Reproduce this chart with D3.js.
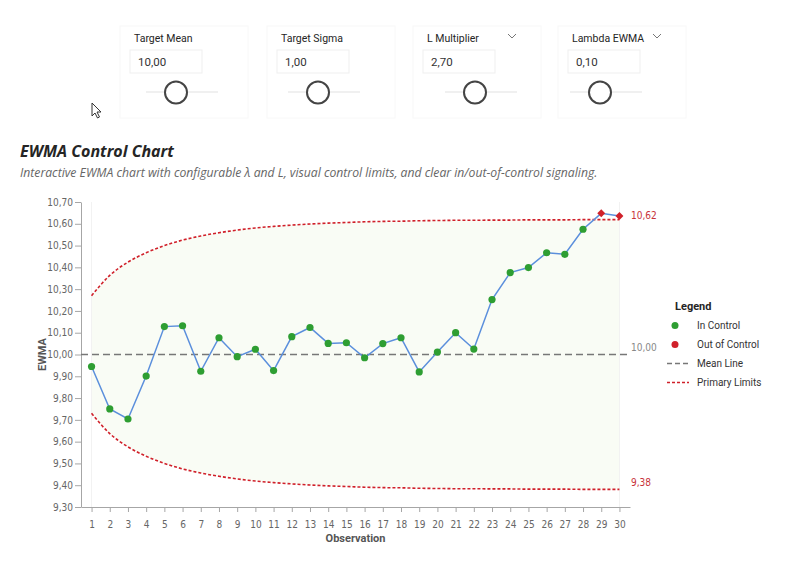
<!DOCTYPE html>
<html>
<head>
<meta charset="utf-8">
<script src="https://cdn.jsdelivr.net/npm/d3@7"></script>
<style>
body { margin: 0; background: #fff; }
svg { display: block; font-family: Roboto, "DejaVu Sans", sans-serif; }
</style>
</head>
<body>
<svg id="chart" width="800" height="588"></svg>
<script>
// parameter cards
const controlLabels = ['Target Mean', 'Target Sigma', 'L Multiplier', 'Lambda EWMA'];
const controlValues = ['10,00', '1,00', '2,70', '0,10'];
const controlChevron = [false, false, true, true];

// chart data
const observations = [1,2,3,4,5,6,7,8,9,10,11,12,13,14,15,16,17,18,19,20,21,22,23,24,25,26,27,28,29,30];
const ewmaValues = [9.945, 9.750, 9.704, 9.901, 10.128, 10.132, 9.923, 10.077, 9.990, 10.024,
                    9.926, 10.082, 10.124, 10.051, 10.054, 9.985, 10.050, 10.077, 9.920, 10.011,
                    10.100, 10.025, 10.252, 10.376, 10.399, 10.467, 10.460, 10.575, 10.648, 10.636];
const upperLimits = [10.270, 10.363, 10.424, 10.467, 10.500, 10.525, 10.544, 10.559, 10.571, 10.581,
                     10.588, 10.594, 10.599, 10.603, 10.606, 10.609, 10.611, 10.612, 10.614, 10.615,
                     10.616, 10.616, 10.617, 10.617, 10.618, 10.618, 10.618, 10.619, 10.619, 10.619];
const lowerLimits = [9.730, 9.637, 9.576, 9.533, 9.500, 9.475, 9.456, 9.441, 9.429, 9.419,
                     9.412, 9.406, 9.401, 9.397, 9.394, 9.391, 9.389, 9.388, 9.386, 9.385,
                     9.384, 9.384, 9.383, 9.383, 9.382, 9.382, 9.382, 9.381, 9.381, 9.381];
const meanValue = 10.00;
const yTicks = [9.3, 9.4, 9.5, 9.6, 9.7, 9.8, 9.9, 10.0, 10.1, 10.2, 10.3, 10.4, 10.5, 10.6, 10.7];
const legendLabels = ['In Control', 'Out of Control', 'Mean Line', 'Primary Limits'];

const svg = d3.select('#chart');

// comma decimal like the report
const fmt = d3.formatLocale({decimal: ',', thousands: '.', grouping: [3], currency: ['', '']}).format('.2f');

// ---- top parameter cards ----
const cardX = [134, 281, 427, 572];
const knobX = [176, 318, 475, 600];

controlLabels.forEach((label, i) => {
    const g = svg.append('g');
    const x = cardX[i];

    g.append('rect')
        .attr('x', x - 14).attr('y', 26)
        .attr('width', 128).attr('height', 92)
        .attr('fill', 'none')
        .attr('stroke', '#f8f8f8');

    g.append('text')
        .attr('x', x).attr('y', 42)
        .style('font-size', '10.5px')
        .attr('fill', '#252525')
        .text(label);

    if (controlChevron[i]) {
        g.append('path')
            .attr('d', `M${x + 81},34 l4,4 l4,-4`)
            .attr('fill', 'none')
            .attr('stroke', '#777')
            .attr('stroke-width', 1);
    }

    g.append('rect')
        .attr('x', x - 4).attr('y', 50)
        .attr('width', 72).attr('height', 23)
        .attr('fill', '#fff')
        .attr('stroke', '#efefef');

    g.append('text')
        .attr('x', x + 4).attr('y', 66)
        .style('font-size', '11.5px')
        .attr('fill', '#333')
        .text(controlValues[i]);

    g.append('line')
        .attr('x1', knobX[i] - 30).attr('x2', knobX[i] + 42)
        .attr('y1', 92).attr('y2', 92)
        .attr('stroke', '#f0f0f0')
        .attr('stroke-width', 2);

    g.append('circle')
        .attr('cx', knobX[i]).attr('cy', 92.5)
        .attr('r', 11)
        .attr('fill', '#fff')
        .attr('stroke', '#444')
        .attr('stroke-width', 2);
});

// mouse pointer
svg.append('path')
    .attr('d', 'M92,103 L92,116 L95,113 L97.5,118 L99.5,117 L97,112 L101,112 Z')
    .attr('fill', '#fff')
    .attr('stroke', '#333')
    .attr('stroke-width', 1);

// ---- titles ----
svg.append('text')
    .attr('x', 20).attr('y', 157)
    .style('font-family', '"Open Sans", sans-serif')
    .style('font-size', '16px')
    .style('font-weight', 'bold')
    .style('font-style', 'italic')
    .attr('fill', '#252525')
    .text('EWMA Control Chart');

svg.append('text')
    .attr('x', 20).attr('y', 177)
    .style('font-family', '"Open Sans", sans-serif')
    .style('font-size', '12.2px')
    .style('font-style', 'italic')
    .attr('fill', '#666')
    .text('Interactive EWMA chart with configurable λ and L, visual control limits, and clear in/out-of-control signaling.');

// ---- chart ----
const margin = {top: 202, right: 170, bottom: 81, left: 81};
const width = 800 - margin.left - margin.right;
const height = 588 - margin.top - margin.bottom;

const chart = svg.append('g')
    .attr('transform', `translate(${margin.left}, ${margin.top})`);

const xscale = d3.scalePoint()
    .domain(observations)
    .range([0, width])
    .padding(0.58);

const yscale = d3.scaleLinear()
    .domain([9.3, 10.7])
    .range([height, 0]);

const rows = observations.map((o, i) => ({
    obs: o,
    value: ewmaValues[i],
    ucl: upperLimits[i],
    lcl: lowerLimits[i]
}));

// control band
chart.append('path')
    .datum(rows)
    .attr('d', d3.area()
        .x(d => xscale(d.obs))
        .y0(d => yscale(d.lcl))
        .y1(d => yscale(d.ucl))
        .curve(d3.curveMonotoneX))
    .attr('fill', '#f9fcf5');

[observations[0], observations[observations.length - 1]].forEach(o => {
    chart.append('line')
        .attr('x1', xscale(o)).attr('x2', xscale(o))
        .attr('y1', 0).attr('y2', height)
        .attr('stroke', '#f2f2f2');
});

// axes
const xaxis = d3.axisBottom(xscale).tickSize(5).tickSizeOuter(0);
const yaxis = d3.axisLeft(yscale).tickValues(yTicks).tickFormat(fmt).tickSize(6).tickSizeOuter(0);

const xg = chart.append('g')
    .attr('transform', `translate(0, ${height})`)
    .call(xaxis);
const yg = chart.append('g').call(yaxis);

[xg, yg].forEach(g => {
    g.select('.domain').attr('stroke', '#a6a6a6');
    g.selectAll('.tick line').attr('stroke', '#a6a6a6');
    g.selectAll('.tick text')
        .attr('fill', '#666')
        .style('font-family', '"Liberation Sans Narrow", "DejaVu Sans Condensed", sans-serif')
        .style('font-size', '10px');
});
xg.selectAll('.tick text').attr('dy', '1.25em');
yg.selectAll('.tick text').attr('x', -8);

svg.append('text')
    .attr('x', margin.left + width / 2)
    .attr('y', 542)
    .attr('text-anchor', 'middle')
    .style('font-size', '11px')
    .style('font-weight', 'bold')
    .attr('fill', '#555')
    .text('Observation');

svg.append('text')
    .attr('transform', 'rotate(-90)')
    .attr('x', -(margin.top + height / 2))
    .attr('y', 46)
    .attr('text-anchor', 'middle')
    .style('font-size', '11px')
    .style('font-weight', 'bold')
    .attr('fill', '#555')
    .text('EWMA');

// mean line
chart.append('line')
    .attr('x1', 0).attr('x2', width)
    .attr('y1', yscale(meanValue)).attr('y2', yscale(meanValue))
    .attr('stroke', '#777')
    .attr('stroke-width', 1.3)
    .attr('stroke-dasharray', '7,4');

// control limits
['ucl', 'lcl'].forEach(key => {
    chart.append('path')
        .datum(rows)
        .attr('d', d3.line()
            .x(d => xscale(d.obs))
            .y(d => yscale(d[key]))
            .curve(d3.curveMonotoneX))
        .attr('fill', 'none')
        .attr('stroke', '#d0202a')
        .attr('stroke-width', 1.6)
        .attr('stroke-dasharray', '3,2');
});

// ewma line
chart.append('path')
    .datum(rows)
    .attr('d', d3.line()
        .x(d => xscale(d.obs))
        .y(d => yscale(d.value)))
    .attr('fill', 'none')
    .attr('stroke', '#5b8fdc')
    .attr('stroke-width', 1.5);

const outOfControl = d => d.value > d.ucl || d.value < d.lcl;

chart.selectAll('.pt-in')
    .data(rows.filter(d => !outOfControl(d)))
    .join('circle')
    .attr('class', 'pt-in')
    .attr('cx', d => xscale(d.obs))
    .attr('cy', d => yscale(d.value))
    .attr('r', 3.6)
    .attr('fill', '#2e9e32');

chart.selectAll('.pt-out')
    .data(rows.filter(outOfControl))
    .join('path')
    .attr('class', 'pt-out')
    .attr('transform', d => `translate(${xscale(d.obs)}, ${yscale(d.value)})`)
    .attr('d', d3.symbol(d3.symbolDiamond2, 40))
    .attr('fill', '#d0202a');

// right side value labels
const lastUcl = upperLimits[upperLimits.length - 1];
const lastLcl = lowerLimits[lowerLimits.length - 1];
const rightLabels = [
    {v: lastUcl, color: '#c8323a', dy: -1},
    {v: meanValue, color: '#888', dy: -4},
    {v: lastLcl, color: '#c8323a', dy: -3}
];
chart.selectAll('.rlabel')
    .data(rightLabels)
    .join('text')
    .attr('class', 'rlabel')
    .attr('x', width + 1)
    .attr('y', d => yscale(d.v) + d.dy)
    .style('font-family', '"Liberation Sans Narrow", "DejaVu Sans Condensed", sans-serif')
    .style('font-size', '10px')
    .attr('fill', d => d.color)
    .text(d => fmt(d.v));

// ---- legend ----
const legend = svg.append('g').attr('transform', 'translate(667, 306)');
legend.append('text')
    .attr('x', 8).attr('y', 4)
    .style('font-size', '11px')
    .style('font-weight', 'bold')
    .attr('fill', '#252525')
    .text('Legend');

legendLabels.forEach((label, i) => {
    const y = 19.5 + i * 19;
    if (i < 2) {
        legend.append('circle')
            .attr('cx', 8).attr('cy', y)
            .attr('r', 3.5)
            .attr('fill', i === 0 ? '#2e9e32' : '#d0202a');
    } else {
        legend.append('line')
            .attr('x1', 0).attr('x2', 22)
            .attr('y1', y).attr('y2', y)
            .attr('stroke', i === 2 ? '#777' : '#d0202a')
            .attr('stroke-width', 1.3)
            .attr('stroke-dasharray', i === 2 ? '5,3' : '3,2');
    }
    legend.append('text')
        .attr('x', 30).attr('y', y + 3.5)
        .style('font-size', '10px')
        .attr('fill', '#333')
        .text(label);
});
</script>
</body>
</html>
